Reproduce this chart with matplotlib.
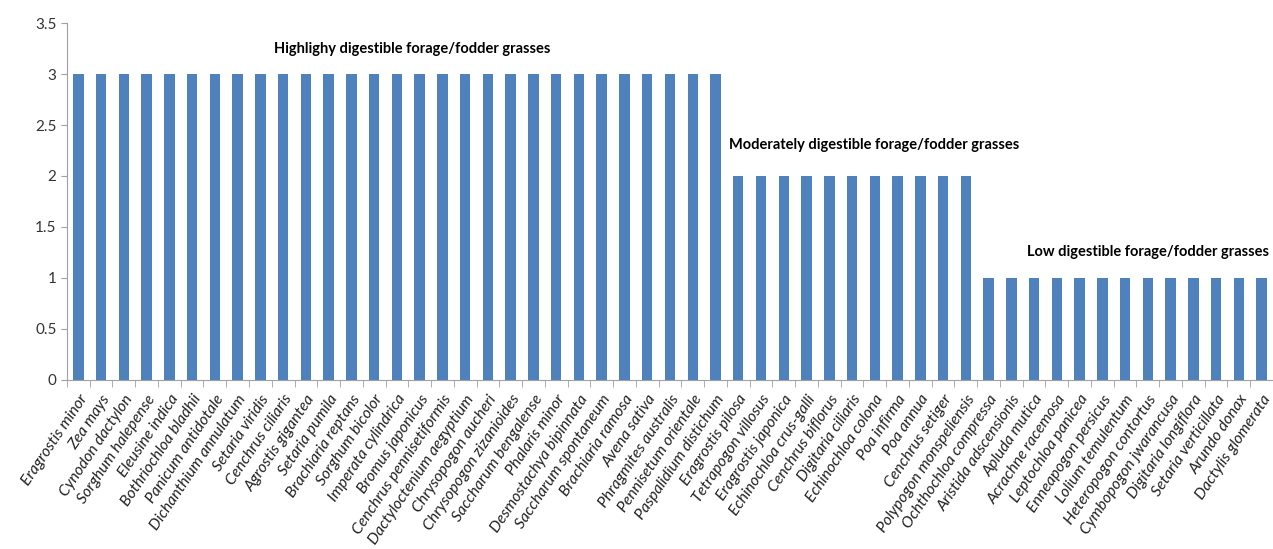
import numpy as np
import matplotlib.pyplot as plt
from matplotlib.ticker import FixedLocator

# species grouped by digestibility score
high_species = [
    "Eragrostis minor", "Zea mays", "Cynodon dactylon", "Sorghum halepense",
    "Eleusine indica", "Bothriochloa bladhii", "Panicum antidotale",
    "Dichanthium annulatum", "Setaria viridis", "Cenchrus ciliaris",
    "Agrostis gigantea", "Setaria pumila", "Brachiaria reptans",
    "Sorghum bicolor", "Imperata cylindrica", "Bromus japonicus",
    "Cenchrus pennisetiformis", "Dactyloctenium aegyptium",
    "Chrysopogon aucheri", "Chrysopogon zizanioides", "Saccharum bengalense",
    "Phalaris minor", "Desmostachya bipinnata", "Saccharum spontaneum",
    "Brachiaria ramosa", "Avena sativa", "Phragmites australis",
    "Pennisetum orientale", "Paspalidium distichum",
]
moderate_species = [
    "Eragrostis pilosa", "Tetrapogon villosus", "Eragrostis japonica",
    "Echinochloa crus-galli", "Cenchrus biflorus", "Digitaria ciliaris",
    "Echinochloa colona", "Poa infirma", "Poa annua", "Cenchrus setiger",
    "Polypogon monspeliensis",
]
low_species = [
    "Ochthochloa compressa", "Aristida adscensionis", "Apluda mutica",
    "Acrachne racemosa", "Leptochloa panicea", "Enneapogon persicus",
    "Lolium temulentum", "Heteropogon contortus", "Cymbopogon jwarancusa",
    "Digitaria longiflora", "Setaria verticillata", "Arundo donax",
    "Dactylis glomerata",
]
high_values = [3] * len(high_species)
moderate_values = [2] * len(moderate_species)
low_values = [1] * len(low_species)

group_labels = [
    "Highlighy digestible forage/fodder grasses",
    "Moderately digestible forage/fodder grasses",
    "Low digestible forage/fodder grasses",
]

species = high_species + moderate_species + low_species
values = high_values + moderate_values + low_values
x = np.arange(len(species))

fig = plt.figure(figsize=(12.73, 5.49), dpi=100)
ax = fig.add_axes([0.0526, 0.308, 0.9474, 0.65])

ax.bar(x, values, width=0.46, color="#4F81BD")

ax.set_xlim(-0.5, len(species) - 0.5)
ax.set_ylim(0, 3.5)
ax.set_yticks(np.arange(0, 3.51, 0.5))
ax.set_yticklabels(["0", "0.5", "1", "1.5", "2", "2.5", "3", "3.5"],
                   fontsize=11, family="Lato", color="#333333")

ax.set_xticks(x)
ax.set_xticklabels(species, rotation=56, ha="right", rotation_mode="anchor",
                   fontsize=11.3, family="Lato", style="italic", color="#222222")
ax.tick_params(axis="x", length=0, pad=9)
ax.xaxis.set_minor_locator(FixedLocator(np.arange(-0.5, len(species), 1.0)))
ax.tick_params(axis="x", which="minor", length=5, color="#A0A0A0")
ax.tick_params(axis="y", length=4, color="#A0A0A0")

for side in ["top", "right"]:
    ax.spines[side].set_visible(False)
for side in ["left", "bottom"]:
    ax.spines[side].set_color("#A0A0A0")

# group captions
n_high = len(high_species)
n_mod = len(moderate_species)
ax.text(8.6, 3.25, group_labels[0], fontsize=10.5, family="Lato",
        fontweight="bold", va="center", ha="left")
ax.text(n_high - 0.4, 2.3, group_labels[1], fontsize=10.5, family="Lato",
        fontweight="bold", va="center", ha="left")
ax.text(n_high + n_mod + 1.7, 1.25, group_labels[2], fontsize=10.5,
        family="Lato", fontweight="bold", va="center", ha="left")

fig.savefig("out.png", dpi=100)
